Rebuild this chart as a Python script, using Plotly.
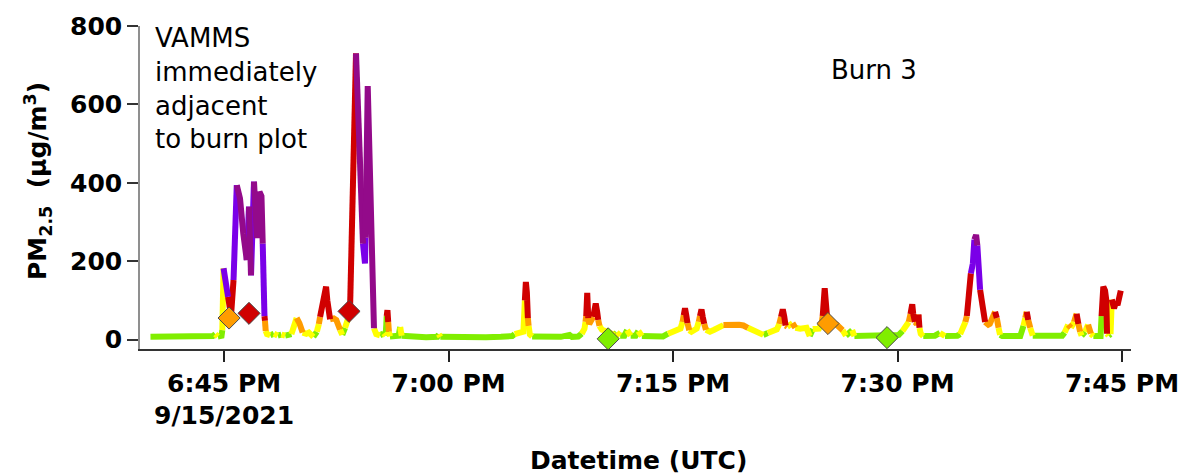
import pandas as pd
import plotly.graph_objects as go

# PM2.5 time series (UTC clock time on 2021-09-15) and concentrations in µg/m³
times = [
    "18:40:05", "18:41:00", "18:42:00", "18:43:00", "18:43:50", "18:44:15", "18:44:25", "18:44:35",
    "18:44:50", "18:44:53", "18:44:58", "18:45:16", "18:45:22", "18:45:28", "18:45:38", "18:45:51",
    "18:45:57", "18:46:04", "18:46:17", "18:46:31", "18:46:40", "18:46:48", "18:47:00", "18:47:08",
    "18:47:12", "18:47:22", "18:47:30", "18:47:35", "18:47:42", "18:47:44", "18:47:47", "18:47:52",
    "18:48:05", "18:48:20", "18:48:35", "18:48:50", "18:49:05", "18:49:30", "18:49:40", "18:49:51",
    "18:50:02", "18:50:15", "18:50:30", "18:50:40", "18:50:58", "18:51:12", "18:51:20", "18:51:25",
    "18:51:41", "18:51:49", "18:51:54", "18:52:01", "18:52:05", "18:52:20", "18:52:30", "18:52:45",
    "18:52:54", "18:53:05", "18:53:18", "18:53:25", "18:53:49", "18:54:11", "18:54:17", "18:54:25",
    "18:54:27", "18:54:36", "18:55:01", "18:55:10", "18:55:25", "18:55:40", "18:55:48", "18:55:52",
    "18:55:55", "18:55:58", "18:56:01", "18:56:05", "18:56:20", "18:56:40", "18:56:46", "18:56:52",
    "18:57:30", "18:58:30", "18:59:15", "18:59:21", "18:59:27", "19:00:30", "19:01:30", "19:02:30",
    "19:03:30", "19:04:15", "19:04:25", "19:04:50", "19:05:00", "19:05:06", "19:05:10", "19:05:14",
    "19:05:18", "19:05:21", "19:05:26", "19:05:35", "19:06:30", "19:07:30", "19:08:05", "19:08:15",
    "19:08:40", "19:08:54", "19:09:05", "19:09:09", "19:09:12", "19:09:16", "19:09:20", "19:09:24",
    "19:09:40", "19:09:50", "19:09:56", "19:10:00", "19:10:05", "19:10:15", "19:10:30", "19:10:50",
    "19:11:05", "19:11:14", "19:11:28", "19:11:45", "19:11:56", "19:12:10", "19:12:30", "19:12:41",
    "19:12:55", "19:13:30", "19:14:20", "19:14:40", "19:15:14", "19:15:30", "19:15:38", "19:15:43",
    "19:15:48", "19:15:53", "19:15:58", "19:16:05", "19:16:14", "19:16:35", "19:16:43", "19:16:48",
    "19:16:54", "19:16:59", "19:17:05", "19:17:12", "19:17:28", "19:17:45", "19:18:05", "19:18:22",
    "19:18:45", "19:19:05", "19:19:25", "19:19:42", "19:20:00", "19:20:20", "19:20:40", "19:21:02",
    "19:21:20", "19:21:40", "19:21:56", "19:22:06", "19:22:13", "19:22:20", "19:22:26", "19:22:31",
    "19:22:38", "19:22:59", "19:23:10", "19:23:30", "19:23:55", "19:24:08", "19:24:20", "19:24:45",
    "19:24:55", "19:25:00", "19:25:08", "19:25:12", "19:25:17", "19:25:28", "19:25:56", "19:26:20",
    "19:26:33", "19:26:58", "19:27:07", "19:28:00", "19:29:00", "19:29:40", "19:30:05", "19:30:20",
    "19:30:35", "19:30:45", "19:30:52", "19:30:59", "19:31:03", "19:31:10", "19:31:17", "19:31:24",
    "19:31:28", "19:31:33", "19:31:43", "19:32:30", "19:32:50", "19:33:10", "19:33:40", "19:34:00",
    "19:34:11", "19:34:25", "19:34:32", "19:34:38", "19:34:54", "19:35:02", "19:35:08", "19:35:15",
    "19:35:20", "19:35:27", "19:35:31", "19:35:40", "19:35:51", "19:36:04", "19:36:10", "19:36:20",
    "19:36:31", "19:36:38", "19:36:45", "19:36:51", "19:37:00", "19:38:12", "19:38:25", "19:38:32",
    "19:38:38", "19:38:44", "19:38:52", "19:39:02", "19:40:00", "19:40:52", "19:41:00", "19:41:10",
    "19:41:24", "19:41:35", "19:41:48", "19:41:58", "19:42:05", "19:42:12", "19:42:18", "19:42:32",
    "19:42:44", "19:42:55", "19:43:05", "19:43:34", "19:43:38", "19:43:45", "19:43:52", "19:43:57",
    "19:44:00", "19:44:06", "19:44:14", "19:44:19", "19:44:28", "19:44:36", "19:44:42", "19:44:55",
]
pm25 = [
    7, 7, 6, 7, 7, 9, 14, 8,
    10, 24, 182, 109, 75, 62, 152, 394,
    373, 360, 271, 203, 339, 164, 403, 313,
    259, 377, 366, 245, 60, 48, 22, 14,
    11, 15, 10, 13, 10, 14, 35, 55,
    42, 18, 15, 18, 7, 20, 40, 58,
    110, 135, 100, 58, 52, 54, 50, 25,
    12, 30, 55, 75, 730, 288, 245, 194,
    260, 647, 29, 14, 11, 16, 10, 60,
    75, 45, 20, 8, 8, 10, 32, 10,
    7, 6, 7, 14, 7, 6, 7, 6,
    7, 9, 14, 17, 20, 100, 147, 120,
    55, 35, 13, 8, 7, 7, 12, 7,
    8, 15, 28, 45, 60, 119, 55, 40,
    58, 92, 70, 50, 35, 25, 22, 14,
    12, 18, 10, 10, 24, 10, 10, 22,
    9, 8, 8, 15, 22, 28, 45, 62,
    80, 62, 42, 24, 20, 28, 45, 60,
    77, 58, 40, 25, 20, 25, 31, 37,
    38, 37, 38, 36, 30, 24, 18, 12,
    17, 20, 26, 40, 58, 77, 58, 36,
    33, 42, 30, 28, 30, 9, 27, 28,
    40, 60, 131, 100, 60, 45, 38, 24,
    10, 24, 9, 9, 9, 9, 12, 22,
    33, 45, 65, 90, 65, 45, 40, 64,
    30, 15, 9, 10, 17, 9, 9, 10,
    14, 33, 45, 60, 169, 194, 255, 267,
    240, 152, 127, 80, 45, 38, 40, 55,
    71, 55, 30, 12, 9, 9, 35, 55,
    71, 50, 30, 10, 9, 9, 10, 18,
    38, 30, 45, 66, 40, 20, 10, 20,
    38, 15, 9, 9, 60, 135, 125, 100,
    15, 10, 14, 102, 80, 95, 88, 125,
]

# Sampler position markers
marker_times = ["18:45:20", "18:46:40", "18:53:21", "19:10:40", "19:25:21", "19:29:18"]
marker_pm25 = [55, 67, 72, 2, 41, 5]

# Tick labels
x_tick_times = ["18:45:00", "19:00:00", "19:15:00", "19:30:00", "19:45:00"]
x_tick_text = ["6:45 PM<br>9/15/2021", "7:00 PM", "7:15 PM", "7:30 PM", "7:45 PM"]
y_tick_vals = [0, 200, 400, 600, 800]
y2_tick_vals = [0, 160, 320, 480, 640, 800]

# Concentration categories: upper bound of each band and its colour
band_limits = [12.0, 35.4, 55.4, 150.4, 250.4, float("inf")]
band_colors = ["#80ee00", "#ffff00", "#ff9c00", "#d00000", "#7a00e8", "#930a8a"]

DAY = "2021-09-15 "


def band_of(v):
    for k, lim in enumerate(band_limits):
        if v <= lim:
            return k
    return len(band_limits) - 1


t_full = pd.to_datetime([DAY + t for t in times])

# Each segment takes the colour of the sample it starts from
seg_x = [[] for _ in band_colors]
seg_y = [[] for _ in band_colors]
last_end = [None] * len(band_colors)
for i in range(len(pm25) - 1):
    k = band_of(pm25[i])
    if last_end[k] != i:
        if seg_x[k]:
            seg_x[k].append(None)
            seg_y[k].append(None)
        seg_x[k].append(t_full[i])
        seg_y[k].append(pm25[i])
    seg_x[k].append(t_full[i + 1])
    seg_y[k].append(pm25[i + 1])
    last_end[k] = i + 1

fig = go.Figure()
for k, color in enumerate(band_colors):
    if not seg_x[k]:
        continue
    fig.add_trace(go.Scatter(
        x=seg_x[k], y=seg_y[k], mode="lines",
        line=dict(color=color, width=6),
        connectgaps=False, showlegend=False, hoverinfo="skip",
    ))

fig.add_trace(go.Scatter(
    x=pd.to_datetime([DAY + t for t in marker_times]), y=marker_pm25,
    mode="markers", showlegend=False,
    marker=dict(symbol="diamond", size=17,
                color=[band_colors[band_of(v)] for v in marker_pm25],
                line=dict(color="#4a4a4a", width=1)),
))

bold = dict(family="DejaVu Sans", size=25, color="black", weight="bold")
regular = dict(family="DejaVu Sans", size=26, color="black")

fig.update_layout(
    width=1183, height=475,
    margin=dict(l=140, r=52, t=26, b=126),
    paper_bgcolor="white", plot_bgcolor="white",
    xaxis=dict(
        type="date", automargin=False,
        range=[DAY + "18:39:23", DAY + "19:45:36"],
        tickvals=[DAY + t for t in x_tick_times], ticktext=x_tick_text,
        ticks="outside", ticklen=11, tickwidth=1.5, tickcolor="#222",
        showline=True, linecolor="#333", linewidth=1.5,
        showgrid=False, zeroline=False, tickfont=bold,
    ),
    yaxis=dict(
        automargin=False,
        range=[-24, 800], tickvals=y_tick_vals,
        ticks="outside", ticklen=11, tickwidth=1.5, tickcolor="#333",
        showline=True, linecolor="#8f8f8f", linewidth=1.5,
        showgrid=False, zeroline=False, tickfont=bold,
    ),
    yaxis2=dict(
        automargin=False,
        overlaying="y", side="right", range=[-24, 800], tickvals=y2_tick_vals,
        showticklabels=False, ticks="outside", ticklen=11, tickwidth=1.5, tickcolor="#222",
        showline=True, linecolor="#222", linewidth=1.5,
        showgrid=False, zeroline=False,
    ),
    annotations=[
        dict(text="PM<sub>2.5</sub>  (µg/m<sup>3</sup>)", textangle=-90,
             xref="paper", yref="paper", x=-0.103, y=0.52,
             xanchor="center", yanchor="middle", showarrow=False, font=bold),
        dict(text="Datetime (UTC)", xref="paper", yref="paper", x=0.503, y=-0.344,
             xanchor="center", yanchor="middle", showarrow=False, font=bold),
        dict(text="VAMMS<br>immediately<br>adjacent<br>to burn plot", align="left",
             xref="paper", yref="paper", x=0.013, y=0.808,
             xanchor="left", yanchor="middle", showarrow=False, font=regular),
        dict(text="Burn 3", xref="paper", yref="paper", x=0.7407, y=0.8638,
             xanchor="center", yanchor="middle", showarrow=False, font=regular),
    ],
)

fig.write_html("out.html")
